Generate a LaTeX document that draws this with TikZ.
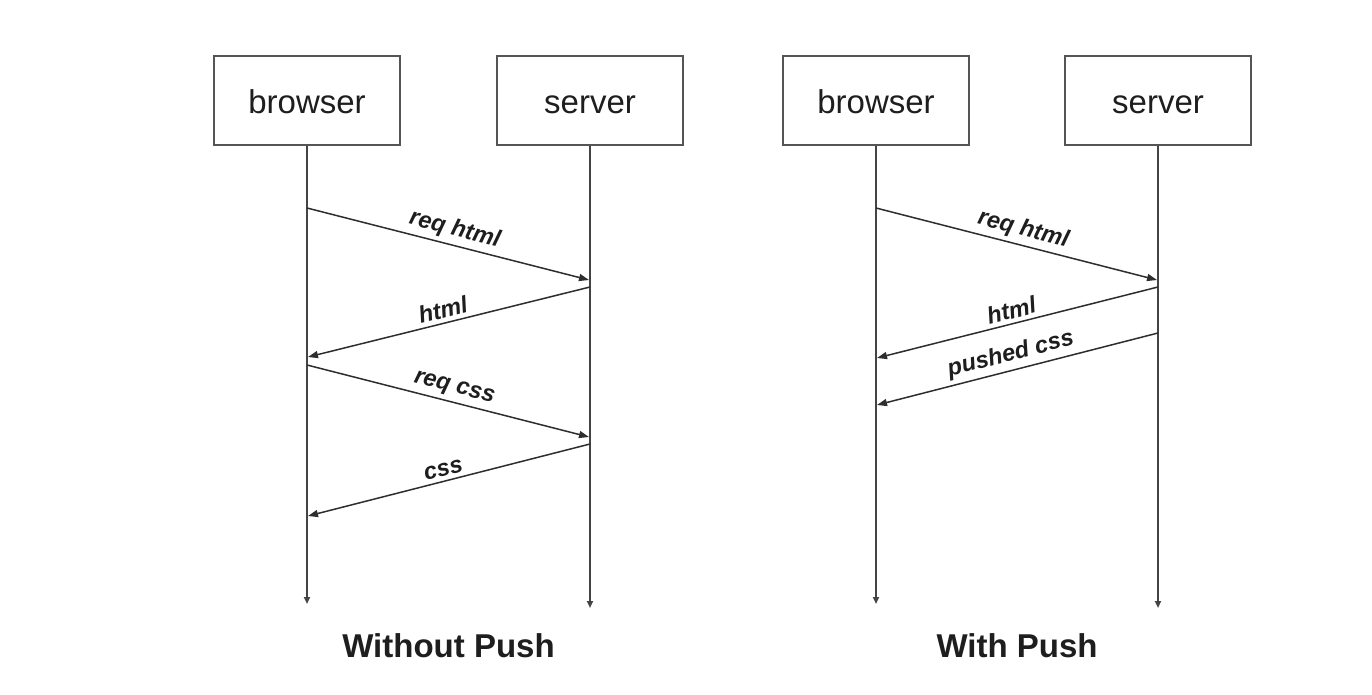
\documentclass[tikz,border=0pt]{standalone}
\usepackage{fontspec}
\setmainfont{Liberation Sans}
\usetikzlibrary{arrows.meta}
\definecolor{boxgray}{HTML}{555555}
\definecolor{linegray}{HTML}{444444}
\definecolor{msggray}{HTML}{2E2E2E}
\definecolor{txt}{HTML}{1E1E1E}
\begin{document}
\begin{tikzpicture}[x=1pt,y=-1pt,
  actor/.style={draw=boxgray,line width=1.7pt,minimum width=186pt,minimum height=89pt,inner sep=0pt,
    text height=27pt,text depth=0pt,font=\fontsize{33}{38}\selectfont,text=txt},
  life/.style={draw=linegray,line width=1.8pt,-{Triangle[length=7pt,width=6pt]}},
  msg/.style={draw=msggray,line width=1.5pt,-{Triangle[length=10pt,width=7pt]}},
  lbl/.style={sloped,above,pos=0.51,font=\bfseries\itshape\fontsize{23.5}{26}\selectfont,text=txt,inner sep=4pt},
  ttl/.style={anchor=base,font=\bfseries\fontsize{33}{38}\selectfont,text=txt}]
\useasboundingbox (0,0) rectangle (1372,695);
\fill[white] (0,0) rectangle (1372,695);
% actors
\node[actor] (bL) at (307,100.5) {browser};
\node[actor] (sL) at (590,100.5) {server};
\node[actor] (bR) at (876,100.5) {browser};
\node[actor] (sR) at (1158,100.5) {server};
% lifeline ends
\coordinate (ebL) at (307,604);
\coordinate (esL) at (590,608);
\coordinate (ebR) at (876,604);
\coordinate (esR) at (1158,608);
\draw[life] (bL.south) -- (ebL);
\draw[life] (sL.south) -- (esL);
\draw[life] (bR.south) -- (ebR);
\draw[life] (sR.south) -- (esR);
% message points, left
\coordinate (l1s) at (307,208); \coordinate (l1e) at (589,280);
\coordinate (l2s) at (590,287); \coordinate (l2e) at (308,357);
\coordinate (l3s) at (307,365); \coordinate (l3e) at (589,437);
\coordinate (l4s) at (590,444); \coordinate (l4e) at (308,516);
% message points, right
\coordinate (r1s) at (876,208); \coordinate (r1e) at (1157,280);
\coordinate (r2s) at (1158,287); \coordinate (r2e) at (877,358);
\coordinate (r3s) at (1158,333); \coordinate (r3e) at (877,405);
\draw[msg] (l1s) -- node[lbl] {req html} (l1e);
\draw[msg] (l2s) -- node[lbl] {html} (l2e);
\draw[msg] (l3s) -- node[lbl] {req css} (l3e);
\draw[msg] (l4s) -- node[lbl] {css} (l4e);
\draw[msg] (r1s) -- node[lbl] {req html} (r1e);
\draw[msg] (r2s) -- node[lbl] {html} (r2e);
\draw[msg] (r3s) -- node[lbl] {pushed css} (r3e);
% titles
\node[ttl] (tL) at (448.5,657) {Without Push};
\node[ttl] (tR) at (1017,657) {With Push};
\end{tikzpicture}
\end{document}
